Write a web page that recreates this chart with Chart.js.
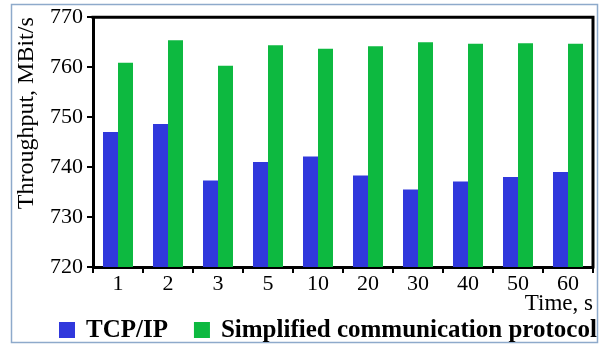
<!DOCTYPE html>
<html>
<head>
<meta charset="utf-8">
<script src="https://cdn.jsdelivr.net/npm/chart.js@4/dist/chart.umd.min.js"></script>
<style>
  html, body { margin: 0; padding: 0; background: #ffffff; }
  #chart { display: block; }
</style>
</head>
<body>
<canvas id="chart" width="603" height="344"></canvas>
<script>
// Measurement interval, s
const timeLabels = ['1', '2', '3', '5', '10', '20', '30', '40', '50', '60'];

// Throughput, MBit/s
const tcpIp = [747, 748.6, 737.3, 741, 742.1, 738.3, 735.5, 737.1, 738, 739];
const simplified = [760.9, 765.4, 760.3, 764.4, 763.7, 764.2, 765.0, 764.7, 764.8, 764.7];

const seriesNames = ['TCP/IP', 'Simplified communication protocol'];
const seriesColors = ['#3038dc', '#0db940'];

const yMin = 720;
const yMax = 770;
const yStep = 10;

const serif = '"Liberation Serif", "Times New Roman", serif';

// Light frame round the whole figure
const framePlugin = {
  id: 'frame',
  beforeDraw(chart) {
    const ctx = chart.ctx;
    ctx.save();
    ctx.fillStyle = '#ffffff';
    ctx.fillRect(0, 0, chart.width, chart.height);
    ctx.strokeStyle = '#8eaacb';
    ctx.lineWidth = 1.5;
    ctx.strokeRect(11.5, 4.5, chart.width - 17, chart.height - 6);
    ctx.restore();
  },
  afterDatasetsDraw(chart) {
    // close the plot box on the top and right sides
    const a = chart.chartArea;
    const ctx = chart.ctx;
    ctx.save();
    ctx.strokeStyle = '#000000';
    ctx.lineWidth = 3;
    ctx.beginPath();
    ctx.moveTo(a.left - 1.5, a.top);
    ctx.lineTo(a.right, a.top);
    ctx.lineTo(a.right, a.bottom + 1.5);
    ctx.stroke();
    ctx.restore();
  }
};

// Legend row under the axis title
const legendRowPlugin = {
  id: 'legendRow',
  afterDraw(chart) {
    const ctx = chart.ctx;
    const box = 16;
    const cy = chart.height - 14;
    let x = 59;
    ctx.save();
    ctx.font = 'bold 25px ' + serif;
    ctx.textBaseline = 'middle';
    ctx.textAlign = 'left';
    chart.data.datasets.forEach((ds) => {
      ctx.fillStyle = ds.backgroundColor;
      ctx.fillRect(x, cy - box / 2, box, box);
      x += box + 11;
      ctx.fillStyle = '#000000';
      ctx.fillText(ds.label, x, cy + 1);
      x += ctx.measureText(ds.label).width + 26;
    });
    ctx.restore();
  }
};

new Chart(document.getElementById('chart'), {
  type: 'bar',
  data: {
    labels: timeLabels,
    datasets: [
      { label: seriesNames[0], data: tcpIp, backgroundColor: seriesColors[0] },
      { label: seriesNames[1], data: simplified, backgroundColor: seriesColors[1] }
    ]
  },
  options: {
    responsive: false,
    animation: false,
    devicePixelRatio: 1,
    layout: { padding: { left: 12, right: 10, top: 15, bottom: 26 } },
    datasets: {
      bar: { categoryPercentage: 0.6, barPercentage: 1.0, borderWidth: 0 }
    },
    plugins: {
      legend: { display: false },
      tooltip: { enabled: false }
    },
    scales: {
      x: {
        offset: true,
        grid: {
          offset: true,
          drawOnChartArea: false,
          drawTicks: true,
          tickLength: 6,
          color: '#000000',
          lineWidth: 2
        },
        border: { display: true, color: '#000000', width: 3 },
        ticks: {
          color: '#000000',
          font: { family: serif, size: 22 },
          padding: -2,
          maxRotation: 0
        },
        title: {
          display: true,
          text: 'Time, s',
          align: 'end',
          color: '#000000',
          font: { family: serif, size: 23 },
          padding: { top: 0, bottom: 0 }
        },
        afterFit(scale) { scale.height = 51; }
      },
      y: {
        min: yMin,
        max: yMax,
        grid: {
          drawOnChartArea: false,
          drawTicks: true,
          tickLength: 6,
          color: '#000000',
          lineWidth: 2
        },
        border: { display: true, color: '#000000', width: 3 },
        ticks: {
          stepSize: yStep,
          color: '#000000',
          font: { family: serif, size: 22 },
          padding: 4
        },
        title: {
          display: true,
          text: 'Throughput, MBit/s',
          align: 'end',
          color: '#000000',
          font: { family: serif, size: 24 },
          padding: { top: 0, bottom: 0 }
        },
        afterFit(scale) { scale.width = 81; }
      }
    }
  },
  plugins: [framePlugin, legendRowPlugin]
});
</script>
</body>
</html>
